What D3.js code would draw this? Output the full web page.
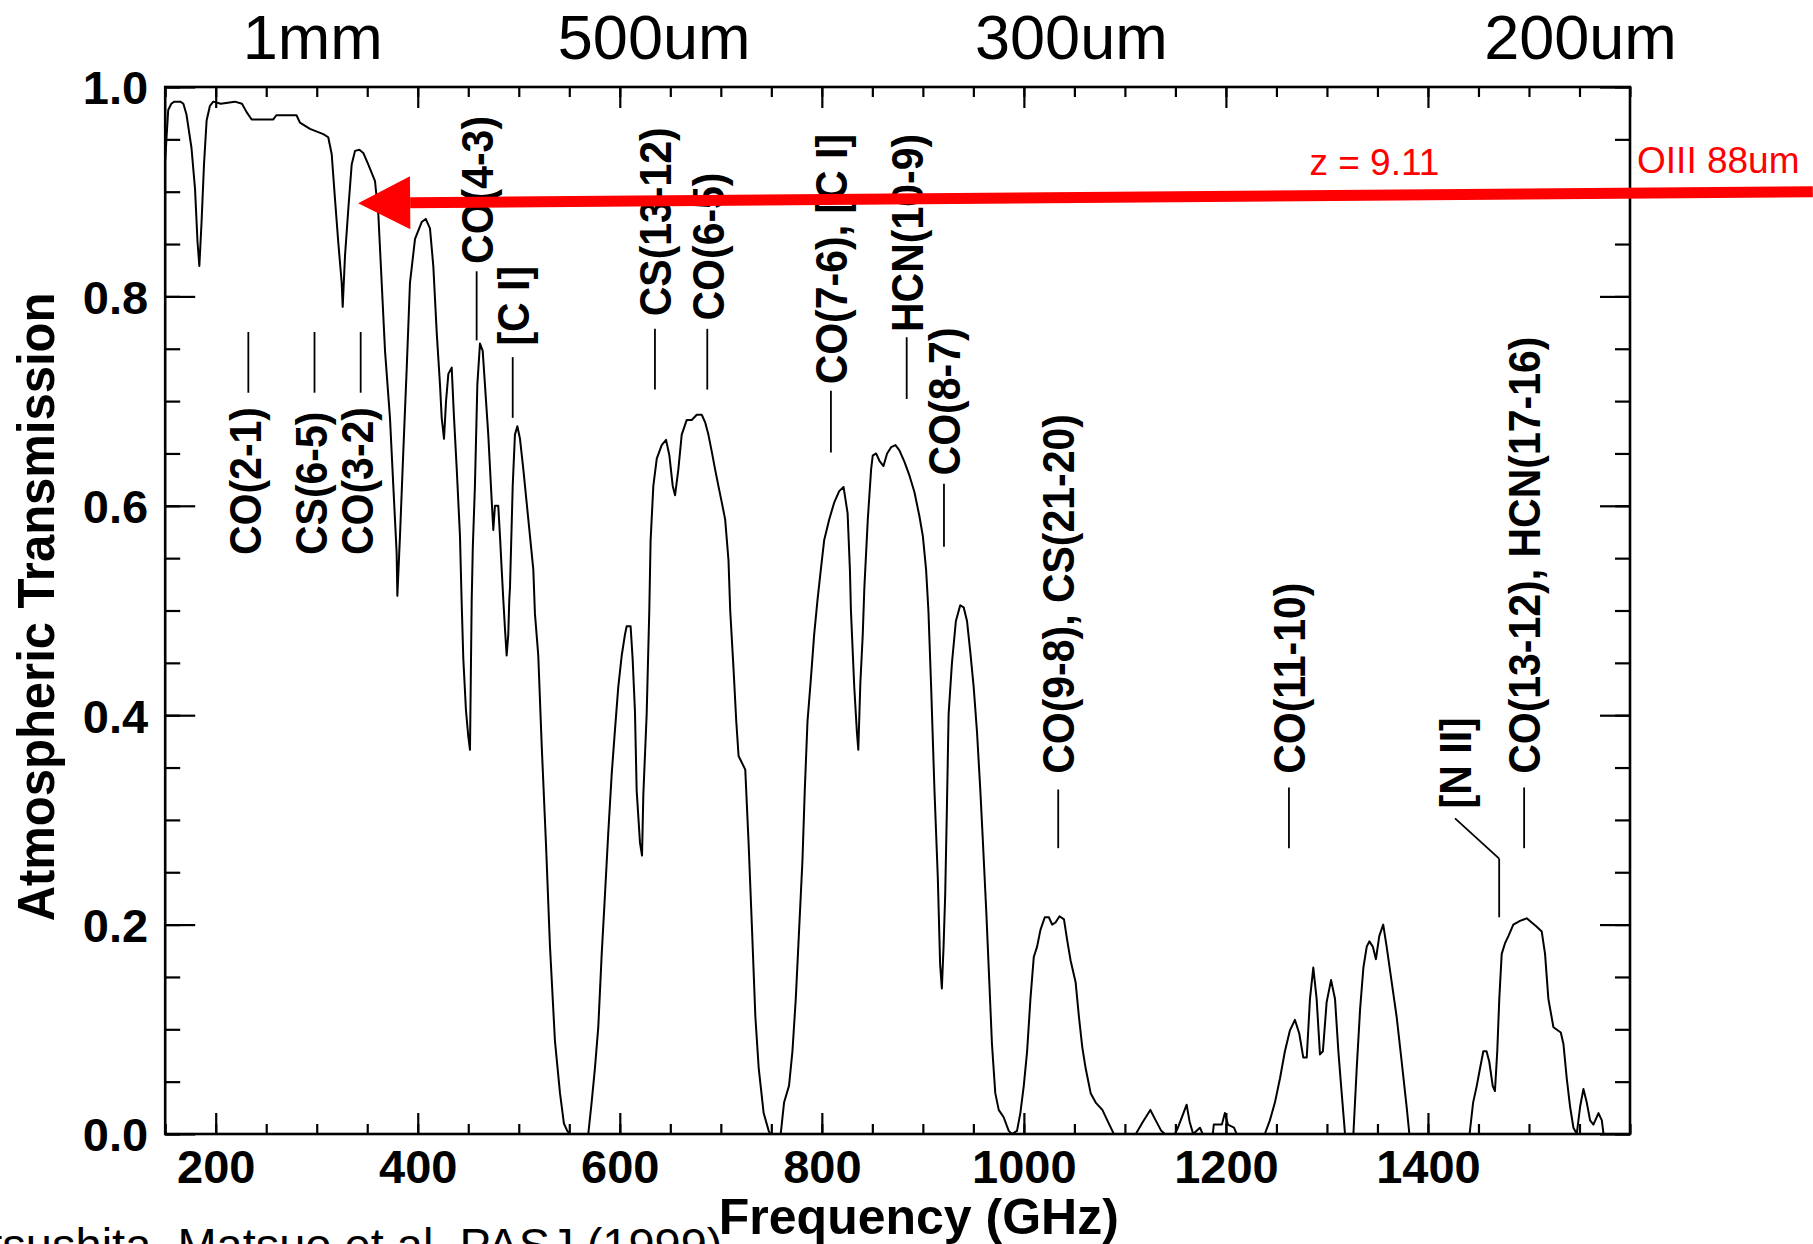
<!DOCTYPE html>
<html><head><meta charset="utf-8">
<script src="https://cdn.jsdelivr.net/npm/d3@7"></script>
<style>body{margin:0;background:#fff;} svg{display:block;}</style>
</head><body>
<script>
// ---- data ----
const freq = [150,151.5,153,156,159,165,168,171,176,179.5,182,183.8,186,188.4,191,194.3,197.6,205,212,219,226,230.6,235.6,257,260,280,283.4,293.3,306.5,311.4,314.8,318,321.3,324.7,325.7,328,331.3,334.6,337.9,342.2,346.1,351,357.7,361,364.3,367.6,372.5,375.8,379.1,379.8,382.4,385.7,389.1,392.3,397.3,403.9,407.9,412.1,415.4,418.8,422,423.7,426,428,430.3,433.6,435.9,438.6,441.8,443.4,445.1,447.7,450,451.7,452.5,453.4,454.5,456.6,459,461.6,464.3,466.5,469.8,473.3,474.8,476.4,479.7,481.4,483.1,484.7,486.5,488,489.6,490.6,491.3,494,496.2,498.6,501.2,504.5,507.8,511.1,514.4,516,519.3,522.7,526.9,530.9,535.8,540.8,544.7,548,550.7,568.8,572.1,575.4,578.7,582.1,585.3,588.6,592,595.3,598.5,601.9,605.1,606.8,610.7,612.7,615,616.7,620,622,623.3,626.6,629.2,630.5,633.2,636.6,641.5,645.8,649.1,652.4,654.7,658,661.3,666.3,671.2,676.2,681.1,684.4,687.7,691,694.3,697.6,701,704.3,707.6,709.3,712.6,715.3,717.6,724.2,727.5,730.9,734.2,737.5,742.4,747.4,749,759.3,762.6,767.5,770.9,774.2,777.5,780.8,783.1,785.8,789.1,792.4,795.7,799,802.3,807.3,812.2,817.2,821.5,825.5,827.8,828.8,832.1,834.7,836.1,838.1,840.5,842.1,845.5,848.8,850.4,853.7,857,861,864.6,868.6,872.9,876.8,881.8,886.7,891.7,896.6,900,903.2,905.5,908.2,911.5,914.8,917.1,918.8,920.5,922.1,923.8,925.5,928.8,932.7,937,940.4,943.7,947,950.3,953.6,956.9,959.5,962.8,965.8,968.4,971.7,975.1,980,985,988.2,993.2,996.5,999.9,1003.2,1006.5,1009.8,1013.1,1016.4,1020.7,1024.7,1028,1031.3,1035.3,1039.7,1042.9,1046.2,1051.2,1054.5,1057.8,1061.1,1066.1,1071.1,1077.7,1082.6,1087.6,1089,1110.8,1118,1125.2,1130,1136,1139.7,1149.5,1152,1156,1161.1,1164,1167.6,1171,1174.3,1177,1187,1188,1196,1199,1202,1208,1210.6,1238.5,1243.5,1248.5,1253.5,1258.4,1263.4,1268.3,1272.6,1276.6,1280,1283.2,1286.5,1289.8,1293.1,1296,1299.7,1304.1,1308,1311.3,1314.6,1317.9,1326.2,1329.5,1332.8,1336.1,1339.4,1342,1345.4,1348.5,1351.8,1355.7,1359.1,1364.1,1369,1374,1378.9,1381.6,1441.2,1444.7,1448.3,1451.6,1454.8,1458,1460.7,1464.1,1466.3,1468.6,1470.6,1473,1476.2,1479.6,1484.5,1491.1,1497.8,1502.7,1507.7,1512.6,1515.9,1519.2,1524.2,1531.5,1534.1,1537.4,1540.7,1544,1547.3,1550.6,1553.9,1557.2,1560.5,1563.8,1568.8,1572.1,1573.8];
const trans = [0.930,0.955,0.978,0.984,0.986,0.986,0.984,0.974,0.942,0.903,0.852,0.829,0.871,0.926,0.968,0.982,0.986,0.984,0.985,0.986,0.984,0.976,0.969,0.969,0.973,0.973,0.966,0.960,0.955,0.952,0.936,0.894,0.852,0.813,0.790,0.839,0.884,0.926,0.939,0.940,0.937,0.926,0.910,0.878,0.813,0.748,0.684,0.619,0.555,0.514,0.571,0.652,0.732,0.813,0.855,0.871,0.874,0.865,0.829,0.765,0.716,0.684,0.664,0.700,0.726,0.732,0.684,0.635,0.571,0.510,0.454,0.405,0.380,0.367,0.434,0.510,0.560,0.619,0.716,0.755,0.748,0.716,0.668,0.603,0.577,0.600,0.600,0.571,0.539,0.510,0.480,0.457,0.477,0.510,0.522,0.619,0.668,0.676,0.664,0.635,0.603,0.571,0.539,0.497,0.457,0.371,0.278,0.179,0.089,0.039,0.010,0.003,0,0,0.030,0.063,0.102,0.172,0.228,0.288,0.344,0.387,0.427,0.457,0.477,0.485,0.485,0.454,0.404,0.328,0.278,0.266,0.324,0.401,0.500,0.567,0.619,0.645,0.658,0.663,0.648,0.619,0.610,0.635,0.668,0.682,0.682,0.687,0.687,0.680,0.668,0.652,0.635,0.619,0.603,0.587,0.548,0.500,0.444,0.394,0.361,0.348,0.278,0.195,0.112,0.063,0.020,0.003,0,0,0.030,0.046,0.079,0.129,0.195,0.261,0.328,0.394,0.434,0.477,0.510,0.539,0.567,0.587,0.603,0.614,0.618,0.593,0.539,0.500,0.427,0.384,0.367,0.430,0.477,0.522,0.587,0.635,0.648,0.650,0.643,0.638,0.650,0.656,0.658,0.653,0.642,0.629,0.613,0.590,0.571,0.539,0.500,0.427,0.328,0.245,0.162,0.139,0.179,0.228,0.311,0.401,0.450,0.490,0.505,0.503,0.490,0.460,0.427,0.384,0.328,0.278,0.212,0.145,0.086,0.039,0.023,0.016,0.003,0,0.003,0.020,0.046,0.079,0.129,0.169,0.179,0.195,0.207,0.207,0.200,0.202,0.208,0.205,0.185,0.166,0.145,0.112,0.083,0.063,0.039,0.030,0.023,0.013,0.003,0,0,0.012,0.023,0.014,0.003,0,0,0.005,0.015,0.028,0.012,0,0.003,0.006,0,0,0.009,0.009,0.020,0.009,0.006,0,0,0.013,0.030,0.053,0.079,0.099,0.109,0.096,0.073,0.073,0.129,0.159,0.129,0.076,0.079,0.126,0.147,0.129,0.079,0.039,0,0,0.063,0.119,0.159,0.179,0.184,0.179,0.167,0.189,0.200,0.179,0.145,0.112,0.069,0.026,0,0,0.030,0.046,0.063,0.079,0.079,0.069,0.046,0.041,0.079,0.129,0.172,0.182,0.189,0.200,0.2035,0.206,0.202,0.198,0.1935,0.172,0.129,0.102,0.097,0.086,0.053,0.026,0.006,0,0.026,0.043,0.030,0.013,0.009,0.020,0.013,0];

const xMajorTicks = [200,400,600,800,1000,1200,1400];
const xMinorTicks = d3.range(150,1601,50);
const yMajorTicks = [0,0.2,0.4,0.6,0.8,1.0];
const yMinorTicks = d3.range(0,1.0001,0.05);

const labelText  = ["CO(2-1)","CS(6-5)","CO(3-2)","CO(4-3)","[C I]","CS(13-12)","CO(6-5)","CO(7-6), [C I]","HCN(10-9)","CO(8-7)","CO(9-8), CS(21-20)","CO(11-10)","[N II]","CO(13-12), HCN(17-16)"];
const labelFreq  = [228.5,294,339.5,458.3,494,634.8,686.6,809,884,920.9,1034,1262.4,1426.8,1495.2];
const lineFreq   = [232.3,297.8,343.5,458.3,494,634.8,686.6,809,884,920.9,1034,1262.4,1470.5,1495.2];
const lineLow    = [0.708,0.708,0.708,0.758,0.684,0.711,0.711,0.651,0.702,0.561,0.273,0.273,0.207,0.273];
const lineHigh   = [0.766,0.766,0.766,0.824,0.742,0.769,0.769,0.710,0.761,0.621,0.329,0.331,0.263,0.331];
const textStart  = [0.553,0.553,0.553,0.831,0.753,0.781,0.777,0.716,0.766,0.629,0.344,0.344,0.311,0.344];
const hasElbow   = [false,false,false,false,false,false,false,false,false,false,false,false,true,false];

const topLabels = ["1mm","500um","300um","200um"];
const topLabelFreq = [296,634,1047,1551];

const arrowTip  = {f:341, t:0.889};
const arrowTail = {f:1781, t:0.900};
const zText = "z = 9.11", zFreq = 1347, zT = 0.916;
const oText = "OIII 88um", oFreq = 1607, oT = 0.918;
const citation = "Matsushita, Matsuo et al. PASJ (1999)";

// ---- drawing ----
const W=1813,H=1244;
const FONT = "'Liberation Sans', Arial, Helvetica, sans-serif";
const svg = d3.select("body").append("svg").attr("width",W).attr("height",H)
  .style("font-family",FONT);
svg.append("rect").attr("width",W).attr("height",H).attr("fill","#fff");

const x = d3.scaleLinear().domain([150,1600]).range([165.2,1630]);
const y = d3.scaleLinear().domain([0,1]).range([1134,87]);

function styleAxis(g){
  g.selectAll("path.domain").remove();
  g.selectAll("line").attr("stroke","#000").attr("stroke-width",2.2);
  g.selectAll("text").attr("fill","#000");
}
// minor ticks
svg.append("g").attr("transform","translate(0,1134)")
  .call(d3.axisBottom(x).tickValues(xMinorTicks).tickSize(-10).tickFormat("")).call(styleAxis);
svg.append("g").attr("transform","translate(0,87)")
  .call(d3.axisTop(x).tickValues(xMinorTicks).tickSize(-10).tickFormat("")).call(styleAxis);
svg.append("g").attr("transform","translate(165.2,0)")
  .call(d3.axisLeft(y).tickValues(yMinorTicks).tickSize(-15).tickFormat("")).call(styleAxis);
svg.append("g").attr("transform","translate(1630,0)")
  .call(d3.axisRight(y).tickValues(yMinorTicks).tickSize(-15).tickFormat("")).call(styleAxis);
// major ticks
const gx = svg.append("g").attr("transform","translate(0,1134)")
  .call(d3.axisBottom(x).tickValues(xMajorTicks).tickSize(-21).tickPadding(16).tickFormat(d3.format("d"))).call(styleAxis);
gx.selectAll("text").attr("font-size",47).attr("font-weight","bold").attr("font-family",FONT);
svg.append("g").attr("transform","translate(0,87)")
  .call(d3.axisTop(x).tickValues(xMajorTicks).tickSize(-21).tickFormat("")).call(styleAxis);
const gy = svg.append("g").attr("transform","translate(165.2,0)")
  .call(d3.axisLeft(y).tickValues(yMajorTicks).tickSize(-30).tickPadding(17).tickFormat(d3.format(".1f"))).call(styleAxis);
gy.selectAll("text").attr("font-size",47).attr("font-weight","bold").attr("font-family",FONT).attr("dy","0.36em");
svg.append("g").attr("transform","translate(1630,0)")
  .call(d3.axisRight(y).tickValues(yMajorTicks).tickSize(-30).tickFormat("")).call(styleAxis);

// frame
svg.append("rect").attr("x",165.2).attr("y",87).attr("width",1630-165.2).attr("height",1134-87)
  .attr("fill","none").attr("stroke","#000").attr("stroke-width",2.6);

// curve
const pts = freq.map((f,i)=>[f,trans[i]]);
svg.append("path").datum(pts)
  .attr("d", d3.line().x(d=>x(d[0])).y(d=>y(d[1])))
  .attr("fill","none").attr("stroke","#000").attr("stroke-width",2).attr("stroke-linejoin","round");

// species labels
const LF = 41, SX = 1.1;
labelText.forEach((t,i)=>{
  svg.append("text")
    .attr("transform",`translate(${x(labelFreq[i])},${y(textStart[i])}) scale(${SX},1) rotate(-90)`)
    .attr("dy","0.36em").attr("font-size",LF).attr("font-weight","bold").attr("fill","#000")
    .text(t);
  svg.append("line").attr("x1",x(lineFreq[i])).attr("x2",x(lineFreq[i]))
    .attr("y1",y(lineLow[i])).attr("y2",y(lineHigh[i]))
    .attr("stroke","#000").attr("stroke-width",1.8);
  if (hasElbow[i]) {
    svg.append("line").attr("x1",x(labelFreq[i])).attr("y1",y(textStart[i])+10)
      .attr("x2",x(lineFreq[i])).attr("y2",y(lineHigh[i]))
      .attr("stroke","#000").attr("stroke-width",1.8);
  }
});

// axis titles
svg.append("text").attr("x",x(896)).attr("y",1234).attr("text-anchor","middle")
  .attr("font-size",50).attr("font-weight","bold").text("Frequency (GHz)");
svg.append("text").attr("transform","translate(54,607) scale(1.05,1) rotate(-90)")
  .attr("text-anchor","middle").attr("font-size",49).attr("font-weight","bold")
  .text("Atmospheric Transmission");

// wavelength labels on top
topLabels.forEach((t,i)=>{
  svg.append("text").attr("x",x(topLabelFreq[i])).attr("y",59).attr("text-anchor","middle")
    .attr("font-size",63).attr("fill","#000").text(t);
});

// red arrow annotation
const tip=[x(arrowTip.f),y(arrowTip.t)], tail=[x(arrowTail.f),y(arrowTail.t)];
const dx=tail[0]-tip[0], dyv=tail[1]-tip[1], L=Math.hypot(dx,dyv), ux=dx/L, uy=dyv/L;
const HL=52, HW=26.5;
const base=[tip[0]+ux*HL, tip[1]+uy*HL];
svg.append("line").attr("x1",tail[0]).attr("y1",tail[1]).attr("x2",base[0]).attr("y2",base[1])
  .attr("stroke","#ff0000").attr("stroke-width",11);
svg.append("path").attr("d",`M${tip[0]},${tip[1]} L${base[0]-uy*HW},${base[1]+ux*HW} L${base[0]+uy*HW},${base[1]-ux*HW} Z`)
  .attr("fill","#ff0000");
svg.append("text").attr("x",x(zFreq)).attr("y",y(zT)).attr("text-anchor","middle")
  .attr("font-size",37).attr("fill","#ff0000").text(zText);
svg.append("text").attr("x",x(oFreq)).attr("y",y(oT))
  .attr("font-size",37).attr("fill","#ff0000").text(oText);

// citation (partly cut off by the picture edge, as in the original)
svg.append("text").attr("x",-76).attr("y",1261).attr("font-size",47).attr("fill","#000").text(citation);
</script>
</body></html>
